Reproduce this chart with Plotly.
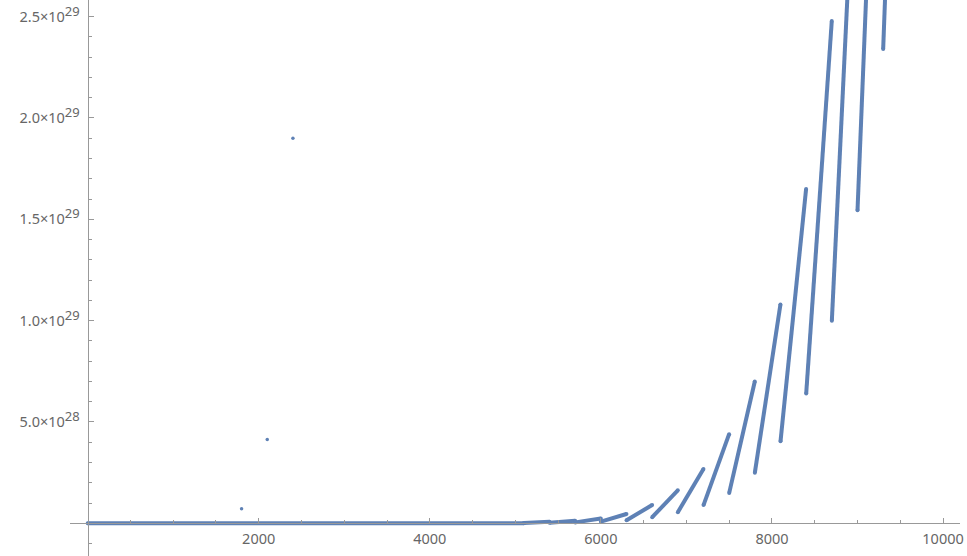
import plotly.graph_objects as go

# ---- data ----
# long flat run of near-zero values
base_x = [1, 5100]
base_y = [0.0, 0.0]

# rising runs: first x, last x, first value, last value (last value of clipped runs = where they leave the top)
run_x0 = [5100, 5400, 5700, 6000, 6300, 6600, 6900, 7200, 7500, 7800, 8100, 8400, 8700, 9000, 9300]
run_x1 = [5399, 5699, 5999, 6299, 6599, 6899, 7199, 7499, 7799, 8099, 8399, 8699, 8881, 9100, 9322]
run_y0 = [2e26, 3e26, 4.6e26, 8e26, 1.5e27, 3.0e27, 5.5e27, 9.0e27, 1.5e28, 2.5e28,
          4.05e28, 6.4e28, 1.0e29, 1.545e29, 2.34e29]
run_y1 = [8e26, 1.3e27, 2.4e27, 4.6e27, 9.0e27, 1.63e28, 2.68e28, 4.4e28, 7.0e28, 1.08e29,
          1.65e29, 2.478e29, 2.59e29, 2.59e29, 2.59e29]

# isolated points
iso_x = [1800, 2100, 2400]
iso_y = [7.2e27, 4.14e28, 1.90e29]

# axis ticks
x_tick_vals = [2000, 4000, 6000, 8000, 10000]
x_tick_text = ["2000", "4000", "6000", "8000", "10000"]
y_tick_vals = [5e28, 1e29, 1.5e29, 2e29, 2.5e29]
y_tick_mant = ["5.0", "1.0", "1.5", "2.0", "2.5"]
y_tick_exp = ["28", "29", "29", "29", "29"]

BLUE = "#5E81B5"
AXIS = "#999999"
TXT = "#666666"

xs, ys = [], []
xs += base_x + [None]
ys += base_y + [None]
for a, b, c, d in zip(run_x0, run_x1, run_y0, run_y1):
    xs += [a, b, None]
    ys += [c, d, None]

fig = go.Figure()
fig.add_trace(go.Scatter(x=xs, y=ys, mode="lines+markers",
                         line=dict(color=BLUE, width=4),
                         marker=dict(color=BLUE, size=4),
                         connectgaps=False, hoverinfo="skip"))
fig.add_trace(go.Scatter(x=iso_x, y=iso_y, mode="markers",
                         marker=dict(color=BLUE, size=3.5), hoverinfo="skip"))

y_text = [f'{m}×10<sup><span style="font-size:13px">{e}</span></sup>'
          for m, e in zip(y_tick_mant, y_tick_exp)]

x_range = [-205.8, 10198]
y_range = [-1.613e28, 2.582e29]
x_pos = (0 - x_range[0]) / (x_range[1] - x_range[0])
y_pos = (0 - y_range[0]) / (y_range[1] - y_range[0])

fig.update_layout(
    width=967, height=556,
    margin=dict(l=70, r=7, t=0, b=0),
    paper_bgcolor="white", plot_bgcolor="white",
    showlegend=False,
    font=dict(family="Noto Sans", size=14.5, color=TXT),
    xaxis=dict(range=x_range, anchor="free", position=y_pos,
               showline=True, linecolor=AXIS, linewidth=1,
               showgrid=False, zeroline=False,
               tickmode="array", tickvals=x_tick_vals, ticktext=x_tick_text,
               ticks="inside", ticklen=5, tickcolor=AXIS, tickwidth=1,
               ticklabelstandoff=2,
               minor=dict(tickmode="array", tickvals=[v for v in range(500, 10001, 500)],
                          ticks="inside", ticklen=3, tickcolor=AXIS, tickwidth=1),
               automargin=False),
    yaxis=dict(range=y_range, anchor="free", position=x_pos,
               showline=True, linecolor=AXIS, linewidth=1,
               showgrid=False, zeroline=False,
               tickmode="array", tickvals=y_tick_vals, ticktext=y_text,
               ticks="inside", ticklen=5, tickcolor=AXIS, tickwidth=1,
               ticklabelstandoff=5,
               minor=dict(tickmode="array", tickvals=[k * 1e28 for k in range(-1, 26)],
                          ticks="inside", ticklen=3, tickcolor=AXIS, tickwidth=1),
               automargin=False),
)

fig.write_html("out.html", config={"displayModeBar": False},
               post_script="document.body.style.margin='0';")
